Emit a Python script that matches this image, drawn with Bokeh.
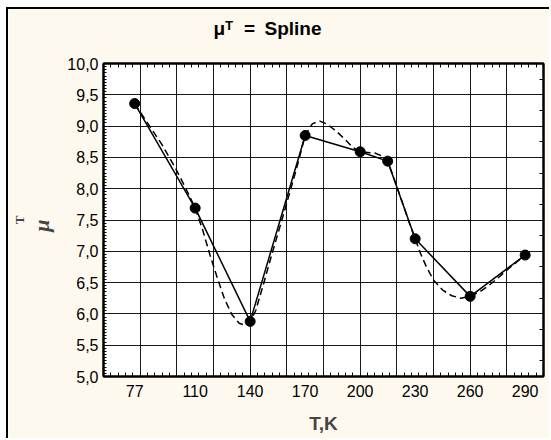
import numpy as np
from bokeh.plotting import figure
from bokeh.models import (FixedTicker, SingleIntervalTicker, LinearAxis, Title,
                          Range1d, CustomJSTickFormatter)
from bokeh.embed import file_html
from bokeh.resources import INLINE

# measured points
temperature = [77, 110, 140, 170, 200, 215, 230, 260, 290]
mu_t = [9.36, 7.69, 5.88, 8.85, 8.59, 8.44, 7.20, 6.28, 6.94]

# fitted spline curve, sampled
spline_t = [77, 84, 92, 99, 105, 110, 114, 118, 122, 126, 130, 134, 137, 140,
            143, 147, 152, 157, 162, 166, 170, 174, 178, 182, 187, 192, 196,
            200, 204, 208, 212, 215, 219, 223, 227, 230, 233, 236, 240, 245,
            250, 255, 260, 265, 270, 275, 280, 285, 290]
spline_mu = [9.36, 9.05, 8.70, 8.34, 8.00, 7.69, 7.35, 6.95, 6.58, 6.24, 5.99,
             5.85, 5.82, 5.88, 6.05, 6.45, 6.97, 7.47, 7.98, 8.40, 8.85, 9.04,
             9.08, 9.03, 8.92, 8.78, 8.66, 8.59, 8.58, 8.57, 8.52, 8.44, 8.12,
             7.78, 7.44, 7.20, 6.96, 6.76, 6.54, 6.38, 6.29, 6.25, 6.28, 6.35,
             6.45, 6.57, 6.70, 6.82, 6.94]

x_ticks = [77, 110, 140, 170, 200, 230, 260, 290]
y_ticks = [5.0, 5.5, 6.0, 6.5, 7.0, 7.5, 8.0, 8.5, 9.0, 9.5, 10.0]

NB = "\u00a0"
chart_title = "μᵀ" + NB * 2 + "=\u2002Spline"
y_symbol = "μ"
y_symbol_sup = "T"
x_title = "T,K"

CREAM = "#FEF9EE"
SANS = "Liberation Sans"
SERIF = "Liberation Serif"

# the panel edge (white margin + black rule) is drawn with CSS on the left/top
EDGE_L, EDGE_T = 8, 9

p = figure(width=551 - EDGE_L, height=440 - EDGE_T,
           x_range=Range1d(60, 300), y_range=Range1d(5, 10),
           title=None, output_backend="svg", toolbar_location=None,
           min_border_left=102 - EDGE_L, min_border_right=8,
           min_border_top=63 - EDGE_T, min_border_bottom=64,
           background_fill_color="white", border_fill_color=CREAM,
           outline_line_color="black", outline_line_width=2,
           styles={"margin-left": "6px", "margin-top": "7px",
                   "border-left": "2px solid black",
                   "border-top": "2px solid black"})

# grid
p.xgrid.ticker = SingleIntervalTicker(interval=20)
p.ygrid.ticker = SingleIntervalTicker(interval=0.5)
for g in (p.xgrid, p.ygrid):
    g.grid_line_color = "black"
    g.grid_line_width = 1
    g.grid_line_alpha = 0.9

# bottom axis
xa = p.xaxis[0]
xa.ticker = FixedTicker(ticks=x_ticks, minor_ticks=list(range(60, 301, 4)))
xa.major_tick_in = 0
xa.major_tick_out = 0
xa.minor_tick_in = 4
xa.minor_tick_out = 0
xa.axis_line_width = 2
xa.major_label_text_font = SANS
xa.major_label_text_font_size = "16px"
xa.major_label_text_color = "black"
xa.major_label_standoff = 8
xa.axis_label = x_title
xa.axis_label_text_font = SANS
xa.axis_label_text_font_style = "bold"
xa.axis_label_text_font_size = "19px"
xa.axis_label_standoff = 13

# left axis, carrying the symbol of the vertical title
ya = p.yaxis[0]
ya.ticker = FixedTicker(ticks=y_ticks,
                        minor_ticks=[round(v, 2) for v in np.arange(5, 10.001, 0.05)])
ya.formatter = CustomJSTickFormatter(code="return tick.toFixed(1).replace('.', ',');")
ya.major_tick_in = 0
ya.major_tick_out = 0
ya.minor_tick_in = 3
ya.minor_tick_out = 0
ya.axis_line_width = 2
ya.major_label_text_font = SANS
ya.major_label_text_font_size = "16px"
ya.major_label_text_color = "black"
ya.major_label_standoff = 5
ya.axis_label = y_symbol + NB * 2
ya.axis_label_text_font = SERIF
ya.axis_label_text_font_style = "bold italic"
ya.axis_label_text_font_size = "22px"
ya.axis_label_standoff = 10

# outer left axis: only the raised T of the vertical title
sup_ax = LinearAxis(ticker=FixedTicker(ticks=[]), axis_line_color=None,
                    major_tick_in=0, major_tick_out=0, minor_tick_in=0,
                    minor_tick_out=0, major_label_text_font_size="0px",
                    major_label_standoff=0, axis_label=y_symbol_sup,
                    axis_label_text_font=SERIF, axis_label_text_font_style="bold",
                    axis_label_text_font_size="13px", axis_label_standoff=0)
p.add_layout(sup_ax, "left")

# top and right axes carry only inner ticks; the top one's blank label
# keeps room between the frame and the title
top_ax = LinearAxis(ticker=FixedTicker(ticks=[], minor_ticks=list(range(60, 301, 4))),
                    major_label_text_font_size="0px", major_label_standoff=0,
                    major_tick_out=0, minor_tick_out=0, minor_tick_in=4,
                    axis_line_width=2, axis_label=NB,
                    axis_label_text_font_size="16px", axis_label_standoff=3)
right_ax = LinearAxis(ticker=FixedTicker(ticks=[],
                      minor_ticks=[round(v, 2) for v in np.arange(5, 10.001, 0.25)]),
                      major_label_text_font_size="0px", major_label_standoff=0,
                      major_tick_out=0, minor_tick_out=0, minor_tick_in=4,
                      axis_line_width=2)
p.add_layout(top_ax, "above")
p.add_layout(right_ax, "right")

# chart title, outside the top axis
p.add_layout(Title(text=chart_title, text_font=SANS, text_font_style="bold",
                   text_font_size="19px", text_color="black", align="left",
                   offset=110, vertical_align="top", standoff=0), "above")

# series
p.line(spline_t, spline_mu, line_color="black", line_width=1.5, line_dash="7 4")
p.line(temperature, mu_t, line_color="black", line_width=1.5)
p.scatter(temperature, mu_t, size=10, color="black")

open("out.html", "w").write(file_html(p, INLINE))
